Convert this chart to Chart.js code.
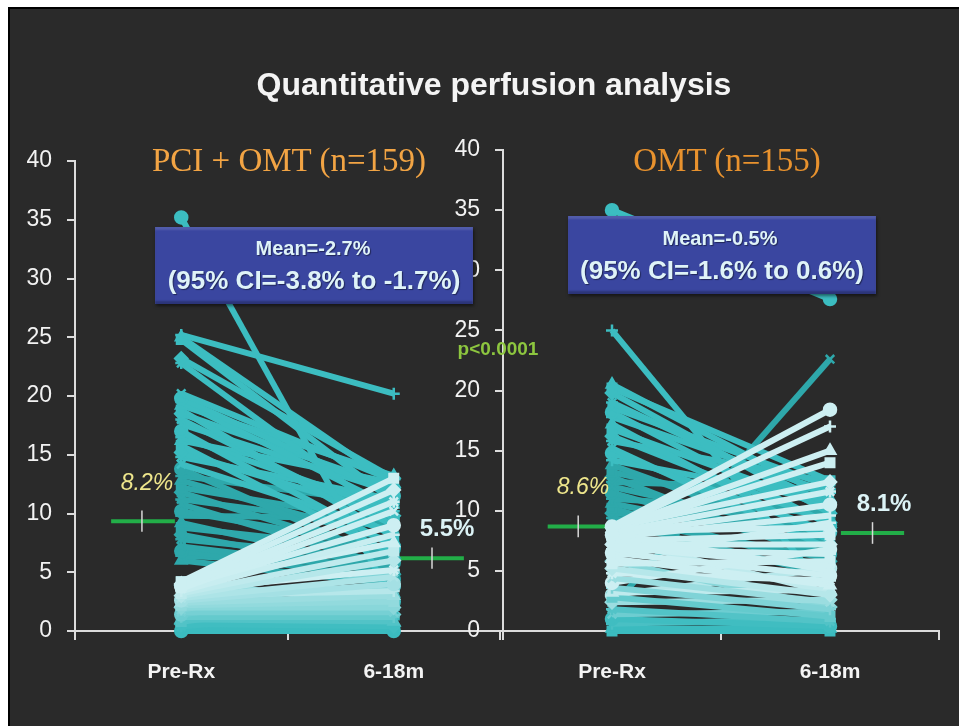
<!DOCTYPE html>
<html>
<head>
<meta charset="utf-8">
<script src="https://cdn.jsdelivr.net/npm/chart.js@4.4.1/dist/chart.umd.min.js"></script>
<style>
  html, body { margin: 0; padding: 0; background: #fff; width: 959px; height: 726px; overflow: hidden; }
  body { font-family: Arial, "Liberation Sans", sans-serif; position: relative; }
  #frame { position: absolute; left: 8px; top: 7px; width: 951px; height: 719px; box-sizing: border-box;
           border-left: 2px solid #000; border-top: 2px solid #000; background: #2a2a2a; }
  canvas { position: absolute; top: 0; }
  .txt { position: absolute; transform: translate(-50%, -50%); line-height: 1; white-space: nowrap; }
  .title { font-size: 32px; font-weight: bold; color: #f4f4f4; }
  .panel { font-family: "Liberation Serif", "Times New Roman", serif; font-size: 33px; }
  .box { position: absolute; background: #3a46a0; box-shadow: inset 0 3px 2px rgba(255,255,255,0.12), inset 0 -3px 2px rgba(0,0,0,0.25), 1px 2px 3px rgba(0,0,0,0.5); }
  .boxtxt { font-weight: bold; color: #dff3f8; text-shadow: 1px 1px 1px rgba(0,0,0,0.45); }
  .meanY { font-style: italic; color: #eee68c; font-size: 23px; }
  .meanW { font-weight: bold; color: #dcf3f6; font-size: 24px; }
</style>
</head>
<body>
<div id="frame"></div>
<canvas id="pciChart" width="520" height="726" style="left:0"></canvas>
<canvas id="omtChart" width="519" height="726" style="left:440px"></canvas>

<div class="txt title" style="left:494px; top:84px">Quantitative perfusion analysis</div>
<div class="txt panel" style="left:289px; top:160px; color:#f2a444">PCI + OMT (n=159)</div>
<div class="txt panel" style="left:727px; top:160px; color:#e8922e">OMT (n=155)</div>

<div class="box" style="left:155px; top:227px; width:318px; height:77px"></div>
<div class="txt boxtxt" style="left:313px; top:248px; font-size:20px">Mean=-2.7%</div>
<div class="txt boxtxt" style="left:314px; top:280px; font-size:26px">(95% CI=-3.8% to -1.7%)</div>

<div class="box" style="left:568px; top:216px; width:308px; height:78px"></div>
<div class="txt boxtxt" style="left:720px; top:238px; font-size:20px">Mean=-0.5%</div>
<div class="txt boxtxt" style="left:722px; top:270px; font-size:26px">(95% CI=-1.6% to 0.6%)</div>

<div class="txt" style="left:498px; top:348px; font-size:19px; font-weight:bold; color:#8dc63f">p&lt;0.0001</div>

<div class="txt meanY" style="left:147px; top:482px">8.2%</div>
<div class="txt meanW" style="left:447px; top:528px">5.5%</div>
<div class="txt meanY" style="left:583px; top:486px">8.6%</div>
<div class="txt meanW" style="left:884px; top:503px">8.1%</div>

<script>
// PCI + OMT group: each index is one patient, Pre-Rx value -> 6-18m value
var pciPre = [35.2, 25.2, 25.0, 24.8, 23.2, 22.8, 20.2, 19.8, 19.5, 19.2,
              18.8, 18.5, 18.0, 17.6, 17.0, 16.5, 16.2, 15.8, 15.2, 14.8,
              14.2, 13.8, 13.2, 12.8, 12.2, 11.8, 11.2, 10.8, 10.2, 9.8,
              9.2, 8.8, 8.2, 7.8, 7.2, 6.8, 6.4, 6.0,
              4.2, 4.0, 3.8, 3.6, 3.8, 3.4, 4.0, 3.2, 3.0, 3.5,
              2.8, 2.6, 3.0, 2.4, 2.2, 2.0, 1.8, 1.6, 1.4, 1.2,
              1.0, 0.8, 0.6, 0.4, 0.2, 0.0, 0.1, 0.3, 4.2, 3.9];
var pciPost = [2.5, 20.2, 12.5, 11.0, 13.0, 9.5, 12.8, 11.5, 10.5, 13.2,
               8.0, 12.2, 9.0, 11.8, 7.2, 10.2, 12.6, 6.5, 9.8, 11.2,
               8.4, 5.8, 10.8, 7.6, 9.2, 6.2, 8.8, 5.4, 7.0, 9.6,
               5.2, 6.8, 4.8, 6.0, 5.0, 4.4, 5.6, 4.0,
               13.0, 12.0, 11.0, 10.2, 9.0, 8.2, 7.5, 6.8, 6.0, 5.2,
               4.6, 4.0, 3.4, 3.0, 2.5, 2.0, 5.0, 1.6, 3.8, 1.2,
               0.8, 2.8, 0.4, 1.8, 0.2, 0.0, 1.0, 3.2, 2.2, 1.4];

// OMT group
var omtPre = [35.0, 25.0, 20.5, 20.2, 19.8, 19.0, 18.6, 18.2, 17.8, 17.2,
              16.8, 16.2, 15.8, 15.2, 14.8, 14.2, 13.8, 13.2, 12.8, 12.4,
              12.0, 11.5, 11.0, 10.6, 10.2, 9.8, 9.4, 9.1,
              8.7, 8.6, 8.5, 8.4, 8.6, 8.2, 2.0, 8.0, 7.8, 8.3,
              7.5, 7.2, 6.8, 7.0, 6.5, 6.2, 6.0, 5.6, 5.2, 4.8,
              4.4, 4.0, 3.6, 3.2, 2.8, 2.4, 1.8, 1.4, 1.0, 0.6,
              0.2, 0.0, 5.8, 7.6, 8.1, 3.0];
var omtPost = [27.6, 3.0, 11.0, 12.5, 9.8, 10.5, 12.0, 8.8, 11.5, 7.5,
               10.2, 9.0, 12.4, 6.8, 8.2, 10.8, 7.2, 9.4, 5.8, 11.8,
               8.0, 6.4, 9.8, 7.0, 5.2, 8.6, 6.0, 4.6,
               18.4, 17.0, 15.0, 14.0, 12.4, 11.6, 22.6, 10.5, 9.6, 8.6,
               8.0, 7.2, 6.4, 5.4, 4.6, 9.0, 3.8, 5.8, 3.0, 4.2,
               2.4, 6.8, 1.8, 3.4, 1.2, 2.6, 0.8, 1.6, 0.4, 1.0,
               0.2, 0.0, 2.0, 3.2, 5.0, 5.2];

// group means as drawn (Pre-Rx, 6-18m)
var pciMeans = [9.35, 6.2];
var omtMeans = [8.7, 8.15];

var yTicks = [0, 5, 10, 15, 20, 25, 30, 35, 40];
var xLabels = ["Pre-Rx", "6-18m"];

Chart.defaults.font.family = 'Arial, "Liberation Sans", sans-serif';

var markerStyles = ['circle', 'cross', 'triangle', 'rect', 'rectRot', 'star', 'crossRot'];

function mix(c1, c2, t) {
    var a = parseInt(c1.slice(1), 16), b = parseInt(c2.slice(1), 16);
    var r = Math.round(((a >> 16) & 255) * (1 - t) + ((b >> 16) & 255) * t);
    var g = Math.round(((a >> 8) & 255) * (1 - t) + ((b >> 8) & 255) * t);
    var bl = Math.round((a & 255) * (1 - t) + (b & 255) * t);
    return 'rgb(' + r + ',' + g + ',' + bl + ')';
}

function lineColour(pre, post, split) {
    if (pre > split || post > 20) {
        return pre >= 14 ? '#3cbdc1' : '#2ea8ab';
    }
    var lo = Math.min(pre, post);
    var t = Math.max(0, Math.min(1, (lo - 0.3) / 3.2));
    return mix('#3bbbbf', '#cdeff2', t);
}

function meanBar(x0, x1, y) {
    return { data: [{x: x0, y: y}, {x: x1, y: y}], borderColor: '#22ae48', borderWidth: 4,
             pointRadius: 0, order: 3, clip: false };
}
function meanTick(x, y) {
    return { data: [{x: x, y: y - 0.9}, {x: x, y: y + 0.9}], borderColor: '#d8d8d8', borderWidth: 1.5,
             pointRadius: 0, order: 0, clip: false };
}

function panelChart(id, pre, post, split, means, bars, yWidth, pad) {
    var sets = [];
    for (var i = 0; i < pre.length; i++) {
        var col = lineColour(pre[i], post[i], split);
        sets.push({
            data: [{x: 0, y: pre[i]}, {x: 1, y: post[i]}],
            borderColor: col,
            backgroundColor: col,
            pointBackgroundColor: col,
            pointBorderColor: col,
            borderWidth: 6,
            pointRadius: 6,
            pointBorderWidth: 2.5,
            pointStyle: markerStyles[i % markerStyles.length],
            order: (pre[i] > split || post[i] > 20) ? 2 : 1,
            clip: false
        });
    }
    sets.push(meanBar(bars[0], bars[1], means[0]));
    sets.push(meanTick(bars[2], means[0]));
    sets.push(meanBar(bars[3], bars[4], means[1]));
    sets.push(meanTick(bars[5], means[1]));

    return new Chart(document.getElementById(id), {
        type: 'line',
        data: { datasets: sets },
        options: {
            responsive: false,
            animation: false,
            devicePixelRatio: 1,
            layout: { padding: pad },
            plugins: { legend: { display: false }, tooltip: { enabled: false } },
            elements: { line: { tension: 0 } },
            scales: {
                x: {
                    type: 'linear', min: -0.5, max: 1.5,
                    afterFit: function (s) { s.height = 60; },
                    afterBuildTicks: function (s) {
                        s.ticks = [-0.5, 0, 0.5, 1, 1.5].map(function (v) { return {value: v}; });
                    },
                    ticks: {
                        autoSkip: false, maxRotation: 0, padding: 20,
                        color: '#f4f4f4', font: { size: 21, weight: 'bold' },
                        callback: function (v) { return v === 0 ? xLabels[0] : (v === 1 ? xLabels[1] : ''); }
                    },
                    grid: {
                        drawOnChartArea: false, tickLength: 9, lineWidth: 2,
                        tickColor: function (c) {
                            return (c.tick && Math.abs(c.tick.value % 1) > 0.1) ? '#dcdcdc' : 'rgba(0,0,0,0)';
                        }
                    },
                    border: { color: '#dcdcdc', width: 2 }
                },
                y: {
                    min: 0, max: 40,
                    afterFit: function (s) { s.width = yWidth; },
                    afterBuildTicks: function (s) {
                        s.ticks = yTicks.map(function (v) { return {value: v}; });
                    },
                    ticks: { color: '#f2f2f2', font: { size: 23 }, padding: 15 },
                    grid: { drawOnChartArea: false, tickLength: 8, lineWidth: 2, color: '#dcdcdc' },
                    border: { color: '#dcdcdc', width: 2 }
                }
            }
        }
    });
}

panelChart('pciChart', pciPre, pciPost, 5, pciMeans,
           [-0.33, -0.03, -0.185, 1.028, 1.33, 1.18], 75,
           { left: 0, top: 161, right: 13, bottom: 35 });
panelChart('omtChart', omtPre, omtPost, 8.8, omtMeans,
           [-0.295, -0.01, -0.155, 1.05, 1.34, 1.195], 63,
           { left: 0, top: 150, right: 16, bottom: 35 });
</script>
</body>
</html>
